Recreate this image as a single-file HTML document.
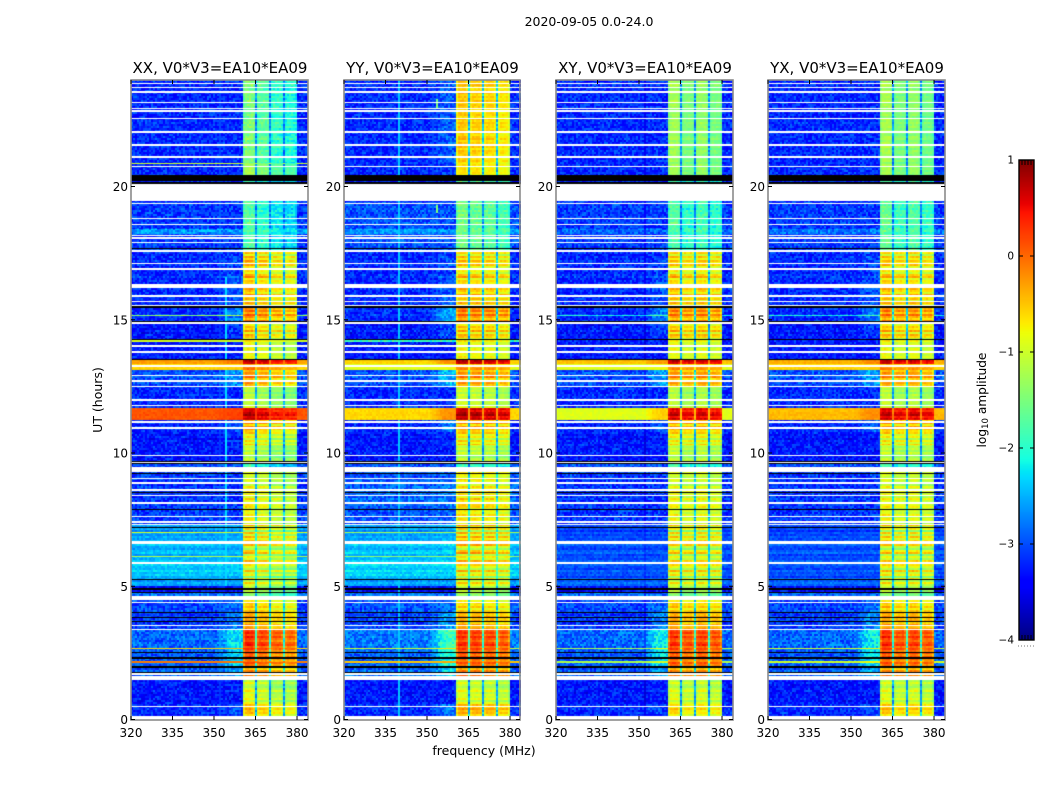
<!DOCTYPE html>
<html lang="en">
<head>
<meta charset="utf-8">
<title>2020-09-05 spectrogram</title>
<style>
html,body{margin:0;padding:0;background:#fff;}
#stage{position:relative;width:1050px;height:800px;overflow:hidden;background:#fff;font-family:"DejaVu Sans","Liberation Sans",sans-serif;}
canvas{position:absolute;display:block;}
svg{position:absolute;left:0;top:0;}
text{font-family:"DejaVu Sans","Liberation Sans",sans-serif;fill:#000;}
</style>
</head>
<body>
<div id="stage">
  <canvas id="heat-0" width="177" height="640" style="left:131px;top:80px"></canvas>
  <canvas id="heat-1" width="177" height="640" style="left:344px;top:80px"></canvas>
  <canvas id="heat-2" width="177" height="640" style="left:556px;top:80px"></canvas>
  <canvas id="heat-3" width="177" height="640" style="left:768px;top:80px"></canvas>
  <canvas id="cbar" width="15" height="480" style="left:1019px;top:160px"></canvas>
  <svg id="overlay" width="1050" height="800" viewBox="0 0 1050 800">
    <text x="589" y="26" font-size="12.5" text-anchor="middle">2020-09-05 0.0-24.0</text>
    <text x="484" y="755" font-size="12.5" text-anchor="middle">frequency (MHz)</text>
    <text x="102" y="400" font-size="12.5" text-anchor="middle" transform="rotate(-90 102 400)">UT (hours)</text>
    <text x="986" y="400" font-size="12.2" text-anchor="middle" transform="rotate(-90 986 400)">log<tspan font-size="8.5" dy="2">10</tspan><tspan dy="-2"> amplitude</tspan></text>
  </svg>
</div>
<script>
/* ---- axis labels ---- */
const panelNames = ['XX', 'YY', 'XY', 'YX'];
const panelTitleSuffix = ', V0*V3=EA10*EA09';
const xTickMHz = [320, 335, 350, 365, 380];
const yTickUT = [0, 5, 10, 15, 20];
const cbarTicks = [1, 0, -1, -2, -3, -4];

/* ---- time structure (UT hours): flagged data, shared by all baselines ---- */
const whiteBandsUT = [[0, 0.12], [1.5, 1.62], [4.5, 4.62], [9.3, 9.46], [19.47, 20.09], [17.55, 17.62], [12.47, 12.53], [16.85, 16.9], [13.24, 13.32]];
const whiteLinesUT = [0.48, 1.71, 3.37, 3.52, 4.39, 5.87, 6.6, 6.66, 7.32, 7.41, 7.62, 8.12, 8.4, 8.62, 8.87, 9.05, 9.65, 9.9, 10.93, 11.16, 11.79, 11.99, 12.7, 12.91, 13.79, 14.02, 14.87, 15.54, 15.69, 15.9, 16.22, 16.31, 16.93, 17.12, 17.9, 18.06, 18.16, 18.58, 18.8, 19.37, 20.75, 21.1, 21.55, 22.05, 22.55, 22.83, 22.92, 23.16, 23.55, 23.71, 23.87];
const blackBandsUT = [[20.22, 20.42], [20.1, 20.17]];
const blackLinesUT = [1.77, 1.97, 2.31, 2.51, 3.67, 3.82, 4.02, 4.76, 4.9, 5.25, 7.22, 7.87, 8.52, 9.24, 9.6, 9.69, 13.52, 14.27, 14.93, 15.48, 17.67];

/* ---- time segments: start UT of each, and log10 amplitude per baseline ---- */
const segStartUT = [0, 0.6, 1.1, 1.6, 2.0, 2.3, 2.6, 3.4, 4.0, 4.5, 4.75, 5.0, 5.3, 5.9, 6.6, 7.3, 8.0, 9.0, 9.3, 9.7, 10.3, 10.8, 11.25, 11.7, 12.5, 13.1, 13.35, 13.5, 14.3, 14.9, 15.5, 16.4, 17.6, 18.2, 18.4, 19.4, 20.45, 20.9];
const segStripe = [0.5, 0.5, 0.5, 0.5, 0.5, 0.5, 0.5, 0.5, 0.5, 0.5, 0.3, 1.2, 1.3, 1.3, 1.3, 0.6, 0.7, 0.5, 0.3, 0.5, 0.9, 0.8, 0.4, 0.4, 0.7, 0.4, 0.3, 0.5, 0.9, 0.8, 0.9, 0.9, 0.3, 0.3, 0.3, 0.2, 0.2, 0.3];
const inBandXX = [-.55, -.95, -1.1, -.3, -.05, .05, .2, -.35, -.6, -1.4, -1.3, -1, -1, -.9, -.85, -.9, -.9, -1, -2, -1.2, -.85, -.4, .6, -1.2, -.3, -.3, .6, -.9, -.6, -.25, -.55, -.6, -1.9, -1.9, -1.9, -1.9, -1.4, -1.65];
const inBandYY = [-.45, -1, -1.1, -.25, -.05, .05, .15, -.4, -.7, -1.3, -1.3, -.9, -.9, -.8, -.75, -.8, -.75, -.8, -2, -1.2, -.8, -.45, .65, -1.1, -.3, -.4, .6, -.9, -.6, -.25, -.6, -.7, -1.7, -1.7, -1.7, -1.7, -.75, -.6];
const inBandXY = [-.7, -1, -1.1, -.3, -.05, .05, .15, -.35, -.6, -1.4, -1.3, -1, -.9, -.95, -.9, -.95, -.95, -1, -2, -1.2, -.85, -.45, .55, -1.2, -.3, -.4, .55, -.95, -.6, -.3, -.6, -.7, -1.9, -1.9, -1.9, -1.9, -1.4, -1.4];
const inBandYX = [-.6, -1, -1.1, -.3, -.05, .05, .15, -.35, -.6, -1.4, -1.3, -1, -.9, -.95, -.9, -.95, -.95, -1, -2, -1.2, -.85, -.45, .55, -1.2, -.3, -.4, .55, -.95, -.6, -.3, -.6, -.7, -1.8, -1.8, -1.8, -1.8, -1.4, -1.4];
const outBandXX = [-3.2, -3.3, -3.3, -2.95, -2.95, -2.95, -2.9, -3.1, -3.05, -2.8, -3.4, -2.6, -2.4, -2.5, -2.6, -3.1, -3.15, -3.1, -3, -3.3, -3.3, -3.2, .1, -3.2, -3, -.6, -.3, -3.3, -3.3, -3.2, -3.2, -3.2, -3.1, -2.65, -3.1, -3.2, -3.2, -3.2];
const outBandYY = [-3.2, -3.3, -3.3, -2.9, -2.9, -2.9, -2.8, -3.05, -3, -2.8, -3.4, -2.6, -2.35, -2.45, -2.6, -3, -2.9, -3, -3, -3.3, -3.3, -3.2, -.6, -3.2, -3, -.9, -.6, -3.3, -3.3, -3.2, -3.2, -3.2, -3, -2.65, -3, -3.2, -3.2, -3.2];
const outBandXY = [-3.2, -3.3, -3.3, -3, -2.95, -2.95, -2.9, -3.1, -3.05, -2.85, -3.4, -2.9, -3, -3, -3.05, -3.15, -3.15, -3.1, -3, -3.3, -3.3, -3.2, -.9, -3.2, -3, -.9, -.5, -3.3, -3.3, -3.2, -3.2, -3.2, -3.1, -2.9, -3.1, -3.2, -3.2, -3.2];
const outBandYX = [-3.2, -3.3, -3.3, -3, -2.95, -2.95, -2.9, -3.1, -3.05, -2.85, -3.4, -2.9, -3, -3, -3.05, -3.15, -3.15, -3.1, -3, -3.3, -3.3, -3.2, -.45, -3.2, -3, -.6, -.4, -3.3, -3.3, -3.2, -3.2, -3.2, -3.1, -2.8, -3.1, -3.2, -3.2, -3.2];

/* ---- interference lines: [UT, log10 amplitude] per baseline ---- */
const rfiRowsXX = [[20.87, -1], [15.15, -1.5], [14.2, -1], [7.02, -1], [6.12, -1.2], [2.65, -.6], [2.16, -.1]];
const rfiRowsYY = [[7.02, -1.3], [6.12, -1.4], [14.2, -2], [2.65, -1], [2.16, -.5]];
const rfiRowsXY = [[2.65, -1.2], [2.16, -1.2], [15.15, -2.2]];
const rfiRowsYX = [[2.65, -1], [2.16, -1], [15.15, -2.2]];
/* vertical interference: [MHz, from UT, to UT, log10 amplitude] */
const rfiColsXX = [[354.4, 5, 16.6, -2.3]];
const rfiColsYY = [[340, 0.1, 24, -2.4], [354, 22.9, 23.3, -1.5], [354, 19, 19.3, -1.5]];
const rfiColsXY = [];
const rfiColsYX = [];

/* ---- spectral response per channel (320-384 MHz, 88 channels) ---- */
const bandpass = [0,0,0,0,0,0,0,0,0,0,0,0,0,0,0,0,0,0,0,0,0,0,0,0,0,0,0,0,0,0,0,0,0,0,0,0,0,0,0,0,0,0,0,.03,.05,.08,.1,.15,.2,.22,.25,.25,.25,.25,.25,.25,.9,1,1,1,1,.95,.3,.95,1,1,1,1,.95,.3,.95,1,1,1,1,.95,.3,.95,1,1,1,1,.9,.02,0,0,0,0];
const skirtGain = [0.8, 1.2, 0.9, 0.9];
/* sub-band offsets, one per 5 MHz block */
const subBandXX = [0.1, -0.05, -0.2, -0.25];
const subBandYY = [0.1, 0.05, 0, -0.1];
const subBandXY = [0.08, -0.06, 0.03, -0.08];
const subBandYX = [0.1, -0.06, 0.02, -0.1];

/* ---- fine texture read from the noise floor ---- */
const speckle = [.12,-.21,.05,.3,-.08,-.27,.18,-.02,.24,-.15,.09,-.31,.2,.02,-.12,.34,-.19,.07,-.04,.16,-.26,.28,-.09,.11,-.17,.03,.22,-.23,.14,-.06,.32,-.29,.01,.19,-.13,.08,-.2,.26,-.03,.15,-.25,.1,.29,-.11,-.18,.06,.23,-.28,.13,-.05,.17,-.22,.36,-.1,.04,-.16,.21,-.07,.27,-.24,.0];
const rowStripe = [.2,-.15,.28,-.05,-.25,.12,.3,-.2,.06,-.1,.24,-.28,.16,.02,-.18,.26,-.08,.1,-.3,.18,-.12,.22,-.02];

const inBands = [inBandXX, inBandYY, inBandXY, inBandYX];
const outBands = [outBandXX, outBandYY, outBandXY, outBandYX];
const rfiRows = [rfiRowsXX, rfiRowsYY, rfiRowsXY, rfiRowsYX];
const rfiCols = [rfiColsXX, rfiColsYY, rfiColsXY, rfiColsYX];
const subBands = [subBandXX, subBandYY, subBandXY, subBandYX];

/* ---- axis functions ---- */
const axesLeft = [131, 344, 556, 768];
const axesRight = [308, 520, 733, 945];
function xScale(p, mhz) { return axesLeft[p] + (mhz - 320) * 2.767; }
function yScale(ut) { return 719.5 - ut * 26.65; }
function utOfCanvasRow(r) { return (719.5 - (80 + r + 0.5)) / 26.65; }
function cbarY(v) { return 640 - (v + 4) * 96; }

function interp(xs, ys, t) {
  for (let i = 1; i < xs.length; i++) {
    if (t <= xs[i]) return ys[i - 1] + (ys[i] - ys[i - 1]) * (t - xs[i - 1]) / (xs[i] - xs[i - 1]);
  }
  return ys[ys.length - 1];
}
function jet(v) {
  const t = Math.max(0, Math.min(1, (v + 4) / 5));
  const r = interp([0, .35, .66, .89, 1], [0, 0, 1, 1, .5], t);
  const g = interp([0, .125, .375, .64, .91, 1], [0, 0, 1, 1, 0, 0], t);
  const b = interp([0, .11, .34, .65, 1], [.5, 1, 1, 0, 0], t);
  return [Math.round(r * 255), Math.round(g * 255), Math.round(b * 255)];
}
function segmentOf(ut) {
  let s = 0;
  for (let i = 0; i < segStartUT.length; i++) { if (ut >= segStartUT[i]) s = i; }
  return s;
}
function inBandsList(list, ut) {
  return list.some(function (b) { return ut >= b[0] && ut < b[1]; });
}
function nearLine(list, ut, half) {
  return list.some(function (u) { return Math.abs(u - ut) <= half; });
}
function subBandIndex(c) { return c < 62 ? 0 : c < 69 ? 1 : c < 76 ? 2 : 3; }

function drawHeatmap(p) {
  const ctx = document.getElementById('heat-' + p).getContext('2d');
  const W = 177, H = 640, nCols = bandpass.length;
  const img = ctx.createImageData(W, H);
  for (let r = 0; r < H; r++) {
    const ut = utOfCanvasRow(r);
    const rr = r >> 1;
    const isWhite = inBandsList(whiteBandsUT, ut) || nearLine(whiteLinesUT, ut, 0.028);
    const isBlack = inBandsList(blackBandsUT, ut) || nearLine(blackLinesUT, ut, 0.022);
    const seg = segmentOf(ut);
    const stripe = rowStripe[rr % rowStripe.length] * segStripe[seg];
    const line = rfiRows[p].find(function (l) { return Math.abs(l[0] - ut) <= 0.022; });
    const rowColors = [];
    for (let c = 0; c < nCols; c++) {
      let rgb;
      if (isWhite) { rgb = [255, 255, 255]; }
      else if (isBlack) { rgb = [0, 0, 0]; }
      else {
        const bp = bandpass[c];
        const inBase = inBands[p][seg];
        const tilt = subBands[p][subBandIndex(c)] * (inBase < -1.2 ? 1.6 : 1);
        const inLv = inBase + (bp > 0.5 ? tilt : 0);
        let outLv = outBands[p][seg];
        if (line) outLv = Math.max(outLv, line[1]);
        let w = bp;
        if (bp < 0.5 && bp !== 0.3) {
          w = bp * skirtGain[p] * Math.max(0, Math.min(1, (inBase + 0.9) / 0.9));
        }
        let v = outLv + (inLv - outLv) * w;
        const mhz = 320 + (c + 0.5) * 64 / nCols;
        let onRfi = false;
        rfiCols[p].forEach(function (k) {
          if (Math.abs(k[0] - mhz) < 0.37 && ut >= k[1] && ut <= k[2]) { v = Math.max(v, k[3]); onRfi = true; }
        });
        const noise = speckle[(rr * 17 + c * c * 3 + c * 5 + p * 11 + rr * c) % speckle.length];
        const strongOut = outLv > -1.5;
        const noiseGain = bp > 0.5 ? (inBase < -1.5 ? 0.7 : 0.35) : (strongOut ? 0.25 : (segStripe[seg] > 1 ? 0.5 : 1));
        const stripeGain = bp > 0.5 ? 1.4 : (strongOut ? 0.2 : 0.35);
        if (!onRfi) v += noise * noiseGain + stripe * stripeGain;
        rgb = jet(v);
      }
      rowColors.push(rgb);
    }
    for (let x = 0; x < W; x++) {
      const rgb = rowColors[Math.min(nCols - 1, x >> 1)];
      const i = (r * W + x) * 4;
      img.data[i] = rgb[0]; img.data[i + 1] = rgb[1]; img.data[i + 2] = rgb[2]; img.data[i + 3] = 255;
    }
  }
  ctx.putImageData(img, 0, 0);
}

function drawColorbar() {
  const ctx = document.getElementById('cbar').getContext('2d');
  for (let y = 0; y < 480; y++) {
    const v = 1 - (y + 0.5) / 96;
    const rgb = jet(v);
    ctx.fillStyle = 'rgb(' + rgb[0] + ',' + rgb[1] + ',' + rgb[2] + ')';
    ctx.fillRect(0, y, 15, 1);
  }
}

const svg = document.getElementById('overlay');
const NS = 'http://www.w3.org/2000/svg';
function addLine(x1, y1, x2, y2, color, width) {
  const el = document.createElementNS(NS, 'line');
  el.setAttribute('x1', x1); el.setAttribute('y1', y1);
  el.setAttribute('x2', x2); el.setAttribute('y2', y2);
  el.setAttribute('stroke', color); el.setAttribute('stroke-width', width);
  svg.appendChild(el);
  return el;
}
function addText(x, y, str, size, anchor) {
  const el = document.createElementNS(NS, 'text');
  el.setAttribute('x', x); el.setAttribute('y', y);
  el.setAttribute('font-size', size); el.setAttribute('text-anchor', anchor);
  el.textContent = str;
  svg.appendChild(el);
  return el;
}

for (let p = 0; p < panelNames.length; p++) {
  drawHeatmap(p);
  const frame = document.createElementNS(NS, 'rect');
  frame.setAttribute('x', axesLeft[p]);
  frame.setAttribute('y', 80);
  frame.setAttribute('width', axesRight[p] - axesLeft[p]);
  frame.setAttribute('height', 640);
  frame.setAttribute('fill', 'none');
  frame.setAttribute('stroke', '#8a8a8a');
  frame.setAttribute('stroke-width', '1.6');
  
  
  svg.appendChild(frame);

  const title = addText((axesLeft[p] + axesRight[p]) / 2 + 0.5, 73, panelNames[p] + panelTitleSuffix, 15, 'middle');
  
  

  xTickMHz.forEach(function (m) {
    const x = xScale(p, m);
    const t1 = addLine(x, 720, x, 716, '#000', 1);
    
    
    const t2 = addLine(x, 80, x, 84, '#000', 1);
    
    
    const lab = addText(x, 737, String(m), 12, 'middle');
    
    
  });
  yTickUT.forEach(function (u) {
    const y = yScale(u);
    const t1 = addLine(axesLeft[p], y, axesLeft[p] + 4, y, '#000', 1);
    
    
    const t2 = addLine(axesRight[p], y, axesRight[p] - 4, y, '#000', 1);
    
    
    const lab = addText(axesLeft[p] - 3, y + 4.5, String(u), 12, 'end');
    
    
  });
}

drawColorbar();
const cbFrame = document.createElementNS(NS, 'rect');
cbFrame.setAttribute('x', 1019);
cbFrame.setAttribute('y', 160);
cbFrame.setAttribute('width', 15);
cbFrame.setAttribute('height', 480);
cbFrame.setAttribute('fill', 'none');
cbFrame.setAttribute('stroke', '#000');
cbFrame.setAttribute('stroke-width', '1.4');


svg.appendChild(cbFrame);

cbarTicks.forEach(function (v) {
  const y = cbarY(v);
  const a = addLine(1019, y, 1023, y, '#000', 1);
  
  
  const b = addLine(1034, y, 1030, y, '#000', 1);
  
  
  const lab = addText(1014, y + 3.5, String(v).replace('-', '\u2212'), 10.5, 'end');
  
  
});
[1022, 1025, 1028, 1031].forEach(function (x) {
  const a = addLine(x, 160, x, 165, '#000', 1);
  
  
  const b = addLine(x, 640, x, 635, '#000', 1);
  
  
});
[1018, 1021, 1024, 1027, 1030, 1033].forEach(function (x) {
  const d = addLine(x, 646, x + 1, 646, '#777', 1);
  
  
});
</script>
</body>
</html>
